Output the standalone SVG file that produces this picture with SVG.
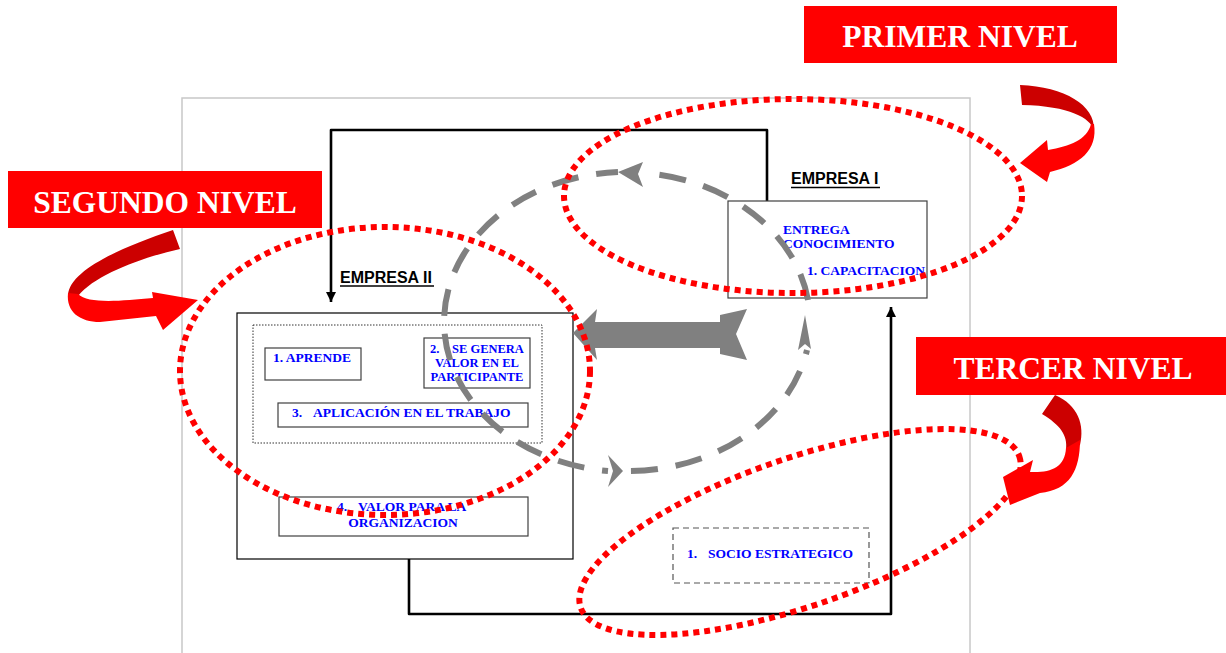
<svg xmlns="http://www.w3.org/2000/svg" width="1226" height="653" viewBox="0 0 1226 653">
<defs>
<style>
.blue{font-family:"Liberation Serif","Times New Roman",serif;font-weight:bold;font-size:13.5px;fill:#0000FF}
.blue2{font-family:"Liberation Serif","Times New Roman",serif;font-weight:bold;font-size:12.5px;fill:#0000FF}
.hdr{font-family:"Liberation Sans",Arial,sans-serif;font-weight:bold;font-size:16px;fill:#000}
.ban{font-family:"Liberation Serif","Times New Roman",serif;font-weight:bold;font-size:31.5px;fill:#FFFFFF}
.box{fill:#fff;stroke:#404040;stroke-width:1.2}
.reddot{fill:none;stroke:#FF0000;stroke-width:6;stroke-dasharray:6 5}
.gd{fill:none;stroke:#808080;stroke-width:6;stroke-dasharray:27 18}
.conn{fill:none;stroke:#000;stroke-width:2.6;stroke-linejoin:round}
</style>
<marker id="ah" viewBox="0 0 10 10" refX="10" refY="5" markerWidth="4" markerHeight="4" orient="auto" markerUnits="strokeWidth"><path d="M0,0 L10,5 L0,10 Z" fill="#000"/></marker>
<marker id="ahb" viewBox="0 0 10 10" refX="10" refY="5" markerWidth="3.5" markerHeight="3.5" orient="auto" markerUnits="strokeWidth"><path d="M0,0 L10,5 L0,10 Z" fill="#0000FF"/></marker>
</defs>
<rect x="0" y="0" width="1226" height="653" fill="#fff"/>
<rect x="182" y="98" width="788" height="570" fill="none" stroke="#c8c8c8" stroke-width="1.5"/>

<g id="connectors">
<polyline class="conn" points="767,201 767,130 331,130 331,302" marker-end="url(#ah)"/>
<polyline class="conn" points="409,559 409,614 891,614 891,307" marker-end="url(#ah)"/>
<line x1="362" y1="364" x2="418" y2="364" stroke="#0000FF" stroke-width="2.6" marker-end="url(#ahb)"/>
<line x1="385" y1="364" x2="385" y2="397" stroke="#000" stroke-width="1.3" marker-end="url(#ah)"/>
<line x1="393.5" y1="443" x2="393.5" y2="490" stroke="#000" stroke-width="2.6" marker-end="url(#ah)"/>
</g>

<g id="empresa2">
<rect x="237" y="313" width="336" height="246" fill="#fff" stroke="#000" stroke-width="1.2"/>
<rect x="253" y="325" width="289" height="118" fill="none" stroke="#333" stroke-width="1" stroke-dasharray="1.5 1.5"/>
<text class="hdr" x="340" y="283">EMPRESA II</text>
<line x1="340" y1="286" x2="434" y2="286" stroke="#000" stroke-width="1.5"/>
</g>
<g id="aprende">
<rect class="box" x="265" y="348" width="96" height="32"/>
<text class="blue" x="273" y="362">1. APRENDE</text>
</g>
<g id="genera">
<rect class="box" x="424" y="338" width="106" height="50"/>
<text class="blue2" y="353"><tspan x="430">2.</tspan><tspan x="452">SE GENERA</tspan></text>
<text class="blue2" x="477" y="367" text-anchor="middle">VALOR EN EL</text>
<text class="blue2" x="477" y="381" text-anchor="middle">PARTICIPANTE</text>
</g>
<g id="aplicacion">
<rect class="box" x="278" y="403" width="250" height="24"/>
<text class="blue" y="417"><tspan x="292">3.</tspan><tspan x="313">APLICACIÓN EN EL TRABAJO</tspan></text>
</g>
<g id="valor">
<rect class="box" x="279" y="497" width="249" height="39"/>
<text class="blue" y="511"><tspan x="337">4.</tspan><tspan x="358">VALOR PARA LA</tspan></text>
<text class="blue" x="403" y="527" text-anchor="middle">ORGANIZACION</text>
</g>
<g id="empresa1">
<rect class="box" x="728" y="201" width="199" height="97"/>
<text class="hdr" x="791" y="184">EMPRESA I</text>
<line x1="791" y1="187.5" x2="880" y2="187.5" stroke="#000" stroke-width="1.5"/>
<text class="blue" x="783" y="234">ENTREGA</text>
<text class="blue" x="783" y="248">CONOCIMIENTO</text>
<text class="blue" x="807" y="275">1. CAPACITACION</text>
</g>
<g id="socio">
<rect x="673" y="528" width="196" height="55" fill="#fff" stroke="#555" stroke-width="1.2" stroke-dasharray="6 4"/>
<text class="blue" y="558"><tspan x="687">1.</tspan><tspan x="708">SOCIO ESTRATEGICO</tspan></text>
</g>

<g id="ciclo" fill="#808080">
<path class="gd" d="M808,300 A183,150 0 0 0 644,173"/>
<path class="gd" d="M618,172 A183,150 0 0 0 608,471" style="stroke-dashoffset:5"/>
<path class="gd" d="M623,471 A183,150 0 0 0 807,350" style="stroke-dashoffset:-8"/>
<polygon points="618,172 643,162 638,174 643,187"/>
<polygon points="623,471 608,455 613,471 608,487"/>
<polygon points="805,315 798,350 805,344 811,349"/>
</g>

<g id="intercambio">
<polygon points="573,333 597,309 595,322 720,322 720,315 747,309 736,334 747,360 720,354 720,348 595,348 597,360" fill="#808080"/>
</g>

<g id="niveles">
<ellipse class="reddot" cx="793" cy="196" rx="229" ry="97"/>
<ellipse class="reddot" cx="385" cy="371" rx="205" ry="144"/>
<ellipse class="reddot" cx="0" cy="0" rx="232" ry="74" transform="translate(800,532) rotate(-19)"/>
</g>

<g id="primer-nivel">
<rect x="804" y="6" width="313" height="57" fill="#FF0000"/>
<text class="ban" x="960" y="47" text-anchor="middle">PRIMER NIVEL</text>
<path d="M1020,85 C1065,87 1095,105 1094,130 C1090,118 1070,106 1022,105 Z" fill="#CC0000"/>
<path d="M1094,124 C1098,150 1080,165 1050,172 L1047,182 L1020,163 L1047,140 L1048,150 C1070,146 1087,140 1091,124 Z" fill="#FF0000"/>
</g>
<g id="segundo-nivel">
<rect x="8" y="171" width="314" height="57" fill="#FF0000"/>
<text class="ban" x="165" y="213" text-anchor="middle">SEGUNDO NIVEL</text>
<path d="M173,230 C120,248 70,270 68,295 C70,302 75,300 78,296 C95,275 140,258 180,249 Z" fill="#CC0000"/>
<path d="M68,293 C66,312 80,322 100,322 L156,316 L163,330 L198,300 L152,292 L153,298 C120,301 88,304 78,294 Z" fill="#FF0000"/>
</g>
<g id="tercer-nivel">
<rect x="916" y="337" width="310" height="58" fill="#FF0000"/>
<text class="ban" x="1073" y="379" text-anchor="middle">TERCER NIVEL</text>
<path d="M1055,395 C1078,405 1085,425 1080,445 L1066,450 C1068,435 1060,425 1042,414 Z" fill="#CC0000"/>
<path d="M1080,440 C1080,470 1070,490 1040,493 L1010,505 L1003,477 L1033,460 L1030,472 C1050,473 1065,468 1066,448 Z" fill="#FF0000"/>
</g>
</svg>
